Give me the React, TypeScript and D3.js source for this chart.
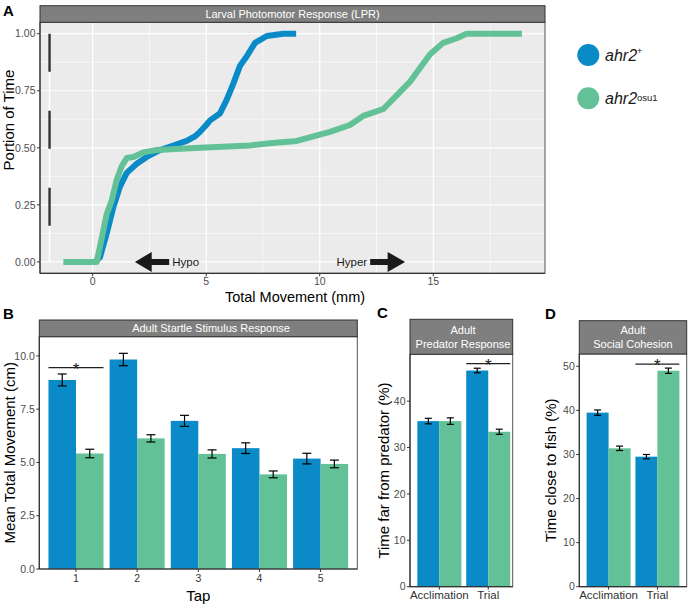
import React from "react";
import * as d3 from "d3";

const W = 688;
const H = 605;
const BLUE = "#0A8AC6";
const GREEN = "#62C196";
const STRIP = "#7F7F7F";
const FONT = "'Liberation Sans', Arial, sans-serif";
const TICK_COL = "#4D4D4D";

// ---------- Panel A : Larval Photomotor Response (cumulative curves) ----------
const wtMovement = [0.1, 0.32, 0.62, 0.91, 1.2, 1.5, 1.94, 2.38, 2.96, 3.55, 4.14, 4.5, 4.73, 5.0, 5.17, 5.6, 5.9, 6.19, 6.49, 6.78, 7.15, 7.67, 8.4, 8.96];
const wtPortion = [0, 0.02, 0.126, 0.24, 0.33, 0.39, 0.43, 0.46, 0.49, 0.51, 0.53, 0.55, 0.57, 0.6, 0.62, 0.65, 0.71, 0.78, 0.86, 0.9, 0.96, 0.99, 1.0, 1.0];
const mutMovement = [-1.29, 0.18, 0.32, 0.62, 0.84, 1.06, 1.28, 1.5, 1.79, 2.23, 2.82, 4.73, 6.93, 7.8, 8.99, 9.72, 10.45, 11.33, 11.92, 12.8, 13.39, 13.98, 14.27, 14.86, 15.44, 16.03, 16.47, 18.9];
const mutPortion = [0, 0, 0.066, 0.21, 0.27, 0.36, 0.42, 0.455, 0.46, 0.48, 0.49, 0.5, 0.51, 0.52, 0.53, 0.55, 0.57, 0.6, 0.64, 0.67, 0.73, 0.79, 0.83, 0.91, 0.96, 0.98, 1.0, 1.0];
const lprXTicks = [0, 5, 10, 15];
const lprXMinor = [2.5, 7.5, 12.5, 17.5];
const lprYTicks = [0, 0.25, 0.5, 0.75, 1];
const lprYMinor = [0.125, 0.375, 0.625, 0.875];
const refLineX = -1.9;
const hypoArrow = [1.86, 2.6, 3.37]; // tip, head base, tail
const hyperArrow = [12.22, 12.99, 13.76]; // tail, head base, tip

// ---------- Panel B : Adult Startle Stimulus Response ----------
const taps = ["1", "2", "3", "4", "5"];
const startleWt = [8.87, 9.83, 6.95, 5.67, 5.18];
const startleWtSe = [0.28, 0.29, 0.26, 0.25, 0.25];
const startleMut = [5.42, 6.13, 5.4, 4.44, 4.93];
const startleMutSe = [0.2, 0.17, 0.19, 0.16, 0.18];
const startleTicks = [0, 2.5, 5, 7.5, 10];

// ---------- Panels C, D ----------
const phases = ["Acclimation", "Trial"];
const predatorWt = [35.7, 46.6];
const predatorWtSe = [0.6, 0.5];
const predatorMut = [35.7, 33.4];
const predatorMutSe = [0.7, 0.55];
const predatorTicks = [0, 10, 20, 30, 40];
const cohesionWt = [39.5, 29.5];
const cohesionWtSe = [0.6, 0.5];
const cohesionMut = [31.4, 49.0];
const cohesionMutSe = [0.5, 0.6];
const cohesionTicks = [0, 10, 20, 30, 40, 50];

const genotypes = ["wt", "mut"];

function PanelA() {
  const left = 40, right = 545, stripTop = 5.7, top = 22.3, bottom = 273.3;
  const x = d3.scaleLinear().domain([-2.32, 19.92]).range([left, right]);
  const y = d3.scaleLinear().domain([-0.05, 1.05]).range([bottom, top]);
  const line = d3.line<[number, number]>().x((d) => x(d[0])).y((d) => y(d[1]));
  const wtPts = wtMovement.map((v, i) => [v, wtPortion[i]] as [number, number]);
  const mutPts = mutMovement.map((v, i) => [v, mutPortion[i]] as [number, number]);
  const ay = y(0);
  const headH = 10, shaftH = 3;
  const hypoPath = `M${x(hypoArrow[0])},${ay} L${x(hypoArrow[1])},${ay - headH} L${x(hypoArrow[1])},${ay - shaftH} L${x(hypoArrow[2])},${ay - shaftH} L${x(hypoArrow[2])},${ay + shaftH} L${x(hypoArrow[1])},${ay + shaftH} L${x(hypoArrow[1])},${ay + headH} Z`;
  const hyperPath = `M${x(hyperArrow[2])},${ay} L${x(hyperArrow[1])},${ay - headH} L${x(hyperArrow[1])},${ay - shaftH} L${x(hyperArrow[0])},${ay - shaftH} L${x(hyperArrow[0])},${ay + shaftH} L${x(hyperArrow[1])},${ay + shaftH} L${x(hyperArrow[1])},${ay + headH} Z`;
  return (
    <g>
      <rect x={left} y={top} width={right - left} height={bottom - top} fill="#EBEBEB" />
      {lprXMinor.map((t) => (
        <line key={"xm" + t} x1={x(t)} x2={x(t)} y1={top} y2={bottom} stroke="#fff" strokeWidth={0.6} />
      ))}
      {lprYMinor.map((t) => (
        <line key={"ym" + t} x1={left} x2={right} y1={y(t)} y2={y(t)} stroke="#fff" strokeWidth={0.6} />
      ))}
      {lprXTicks.map((t) => (
        <line key={"xg" + t} x1={x(t)} x2={x(t)} y1={top} y2={bottom} stroke="#fff" strokeWidth={1.2} />
      ))}
      {lprYTicks.map((t) => (
        <line key={"yg" + t} x1={left} x2={right} y1={y(t)} y2={y(t)} stroke="#fff" strokeWidth={1.2} />
      ))}
      <line x1={x(refLineX)} x2={x(refLineX)} y1={y(1)} y2={y(0)} stroke="#fff" strokeWidth={1.6} />
      <line x1={x(refLineX)} x2={x(refLineX)} y1={y(1)} y2={y(0)} stroke="#333" strokeWidth={2.4} strokeDasharray="38,39" />
      <path d={line(wtPts) || ""} fill="none" stroke={BLUE} strokeWidth={6} strokeLinejoin="round" />
      <path d={line(mutPts) || ""} fill="none" stroke={GREEN} strokeWidth={6} strokeLinejoin="round" />
      <path d={hypoPath} fill="#1a1a1a" />
      <path d={hyperPath} fill="#1a1a1a" />
      <text x={x(hypoArrow[2]) + 3} y={ay + 4} fontSize={11.5} fontFamily={FONT} fill="#1a1a1a">Hypo</text>
      <text x={x(hyperArrow[0]) - 3} y={ay + 4} fontSize={11.5} fontFamily={FONT} fill="#1a1a1a" textAnchor="end">Hyper</text>
      <rect x={left} y={top} width={right - left} height={bottom - top} fill="none" stroke="#555" strokeWidth={1} />
      <line x1={left} x2={left} y1={top} y2={bottom} stroke="#333" strokeWidth={1.2} />
      <line x1={left} x2={right} y1={bottom} y2={bottom} stroke="#333" strokeWidth={1.2} />
      <rect x={left} y={stripTop} width={right - left} height={top - stripTop} fill={STRIP} stroke="#333" strokeWidth={1} />
      <text x={(left + right) / 2} y={(stripTop + top) / 2 + 4} textAnchor="middle" fontSize={11} fontFamily={FONT} fill="#fff">
        Larval Photomotor Response (LPR)
      </text>
      {lprXTicks.map((t) => (
        <g key={"xt" + t}>
          <line x1={x(t)} x2={x(t)} y1={bottom} y2={bottom + 3} stroke="#333" />
          <text x={x(t)} y={bottom + 12} textAnchor="middle" fontSize={10.5} fontFamily={FONT} fill={TICK_COL}>{t}</text>
        </g>
      ))}
      {lprYTicks.map((t) => (
        <g key={"yt" + t}>
          <line x1={left - 3} x2={left} y1={y(t)} y2={y(t)} stroke="#333" />
          <text x={left - 4.5} y={y(t) + 3.7} textAnchor="end" fontSize={10.5} fontFamily={FONT} fill={TICK_COL}>{t.toFixed(2)}</text>
        </g>
      ))}
      <text x={295} y={301.5} textAnchor="middle" fontSize={14.5} fontFamily={FONT} fill="#000">Total Movement (mm)</text>
      <text transform="translate(13.5,120) rotate(-90)" textAnchor="middle" fontSize={15} fontFamily={FONT} fill="#000">Portion of Time</text>
      <text x={3} y={15.5} fontSize={15} fontWeight="bold" fontFamily={FONT}>A</text>
      {/* legend */}
      <circle cx={588.3} cy={55} r={11} fill={BLUE} />
      <circle cx={588.3} cy={98.3} r={11} fill={GREEN} />
      <text x={605} y={61} fontSize={16} fontStyle="italic" fontFamily={FONT} fill="#1a1a1a">
        ahr2<tspan fontSize={9} dy={-7} fontStyle="normal">+</tspan>
      </text>
      <text x={605} y={104} fontSize={16} fontStyle="italic" fontFamily={FONT} fill="#1a1a1a">
        ahr2<tspan fontSize={9.5} dy={-3} fontStyle="normal">osu1</tspan>
      </text>
    </g>
  );
}

type BarProps = {
  label: string;
  labelX: number;
  left: number;
  right: number;
  stripTop: number;
  stripBottom: number;
  bottom: number;
  yMax: number;
  ticks: number[];
  fmt: (v: number) => string;
  cats: string[];
  wt: number[];
  wtSe: number[];
  mut: number[];
  mutSe: number[];
  stripLines: string[];
  stripTextX: number;
  yTitle: string;
  yTitleX: number;
  xTitle?: string;
  sigCat: number;
  sigY: number;
  paddingOuter: number;
  align: number;
  capW: number;
  xLabelSize: number;
  xLabelDy: number;
};

function BarPanel(p: BarProps) {
  const x = d3.scaleBand().domain(p.cats).range([p.left, p.right]).paddingInner(0.1).paddingOuter(p.paddingOuter).align(p.align);
  const xi = d3.scaleBand().domain(genotypes).range([0, x.bandwidth()]).padding(0);
  const y = d3.scaleLinear().domain([0, p.yMax]).range([p.bottom, p.stripBottom]);
  const series = [
    { key: "wt", vals: p.wt, se: p.wtSe, color: BLUE },
    { key: "mut", vals: p.mut, se: p.mutSe, color: GREEN },
  ];
  const sigCat = p.cats[p.sigCat];
  const sx0 = (x(sigCat) as number);
  const sx1 = sx0 + x.bandwidth();
  const sy = y(p.sigY);
  const cx = (p.left + p.right) / 2;
  return (
    <g>
      <rect x={p.left} y={p.stripBottom} width={p.right - p.left} height={p.bottom - p.stripBottom} fill="#fff" />
      {series.map((s) =>
        p.cats.map((c, i) => {
          const bx = (x(c) as number) + (xi(s.key) as number);
          const bw = xi.bandwidth();
          const mid = bx + bw / 2;
          return (
            <g key={s.key + c}>
              <rect x={bx} y={y(s.vals[i])} width={bw} height={p.bottom - y(s.vals[i])} fill={s.color} />
              <line x1={mid} x2={mid} y1={y(s.vals[i] + s.se[i])} y2={y(s.vals[i] - s.se[i])} stroke="#000" strokeWidth={1.2} />
              <line x1={mid - p.capW / 2} x2={mid + p.capW / 2} y1={y(s.vals[i] + s.se[i])} y2={y(s.vals[i] + s.se[i])} stroke="#000" strokeWidth={1.2} />
              <line x1={mid - p.capW / 2} x2={mid + p.capW / 2} y1={y(s.vals[i] - s.se[i])} y2={y(s.vals[i] - s.se[i])} stroke="#000" strokeWidth={1.2} />
            </g>
          );
        })
      )}
      <line x1={sx0} x2={sx1} y1={sy} y2={sy} stroke="#222" strokeWidth={1.3} />
      <text x={(sx0 + sx1) / 2} y={sy + 7} textAnchor="middle" fontSize={17} fontFamily={FONT} fill="#222">*</text>
      <rect x={p.left} y={p.stripBottom} width={p.right - p.left} height={p.bottom - p.stripBottom} fill="none" stroke="#555" strokeWidth={1} />
      <line x1={p.left} x2={p.left} y1={p.stripBottom} y2={p.bottom} stroke="#333" strokeWidth={1.2} />
      <line x1={p.left} x2={p.right} y1={p.bottom} y2={p.bottom} stroke="#333" strokeWidth={1.2} />
      <rect x={p.left} y={p.stripTop} width={p.right - p.left} height={p.stripBottom - p.stripTop} fill={STRIP} stroke="#333" strokeWidth={1} />
      {p.stripLines.map((t, i) => {
        const n = p.stripLines.length;
        const mid = (p.stripTop + p.stripBottom) / 2;
        const yy = mid + (i - (n - 1) / 2) * 14 + 4;
        return (
          <text key={t} x={p.stripTextX} y={yy} textAnchor="middle" fontSize={11} fontFamily={FONT} fill="#fff">{t}</text>
        );
      })}
      {p.ticks.map((t) => (
        <g key={"t" + t}>
          <line x1={p.left - 3} x2={p.left} y1={y(t)} y2={y(t)} stroke="#333" />
          <text x={p.left - 4.5} y={y(t) + 3.7} textAnchor="end" fontSize={10.5} fontFamily={FONT} fill={TICK_COL}>{p.fmt(t)}</text>
        </g>
      ))}
      {p.cats.map((c) => {
        const m = (x(c) as number) + x.bandwidth() / 2;
        return (
          <g key={"c" + c}>
            <line x1={m} x2={m} y1={p.bottom} y2={p.bottom + 3} stroke="#333" />
            <text x={m} y={p.bottom + p.xLabelDy} textAnchor="middle" fontSize={p.xLabelSize} fontFamily={FONT} fill="#333">{c}</text>
          </g>
        );
      })}
      {p.xTitle ? (
        <text x={cx} y={p.bottom + 32} textAnchor="middle" fontSize={15} fontFamily={FONT} fill="#000">{p.xTitle}</text>
      ) : null}
      <text transform={`translate(${p.yTitleX},${(p.stripBottom + p.bottom) / 2}) rotate(-90)`} textAnchor="middle" fontSize={15} fontFamily={FONT} fill="#000">
        {p.yTitle}
      </text>
      <text x={p.labelX} y={p.stripTop - 1.5} fontSize={15} fontWeight="bold" fontFamily={FONT}>{p.label}</text>
    </g>
  );
}

export default function App() {
  return (
    <div style={{ position: "absolute", left: 0, top: 0 }}>
      <svg width={W} height={H} viewBox={`0 0 ${W} ${H}`} style={{ display: "block", background: "#fff" }}>
        <PanelA />
        <BarPanel
          label="B" labelX={3} left={39.3} right={357.3} stripTop={320} stripBottom={336.7} bottom={569}
          yMax={10.9} ticks={startleTicks} fmt={(v) => v.toFixed(1)} cats={taps}
          wt={startleWt} wtSe={startleWtSe} mut={startleMut} mutSe={startleMutSe}
          stripLines={["Adult Startle Stimulus Response"]} stripTextX={211}
          yTitle="Mean Total Movement (cm)" yTitleX={15} xTitle="Tap"
          sigCat={0} sigY={9.45} paddingOuter={0.15} align={0.5} capW={9}
          xLabelSize={10.5} xLabelDy={13}
        />
        <BarPanel
          label="C" labelX={377} left={410} right={512.7} stripTop={319.3} stripBottom={354.3} bottom={586.7}
          yMax={50.1} ticks={predatorTicks} fmt={(v) => String(v)} cats={phases}
          wt={predatorWt} wtSe={predatorWtSe} mut={predatorMut} mutSe={predatorMutSe}
          stripLines={["Adult", "Predator Response"]} stripTextX={463}
          yTitle="Time far from predator (%)" yTitleX={388.5}
          sigCat={1} sigY={48.1} paddingOuter={0.1} align={0.75} capW={7}
          xLabelSize={11.5} xLabelDy={12.5}
        />
        <BarPanel
          label="D" labelX={545} left={579.3} right={686.7} stripTop={320.7} stripBottom={354} bottom={586.7}
          yMax={52.8} ticks={cohesionTicks} fmt={(v) => String(v)} cats={phases}
          wt={cohesionWt} wtSe={cohesionWtSe} mut={cohesionMut} mutSe={cohesionMutSe}
          stripLines={["Adult", "Social Cohesion"]} stripTextX={633}
          yTitle="Time close to fish (%)" yTitleX={556}
          sigCat={1} sigY={50.5} paddingOuter={0.15} align={0.5} capW={7}
          xLabelSize={11.5} xLabelDy={12.5}
        />
      </svg>
    </div>
  );
}
